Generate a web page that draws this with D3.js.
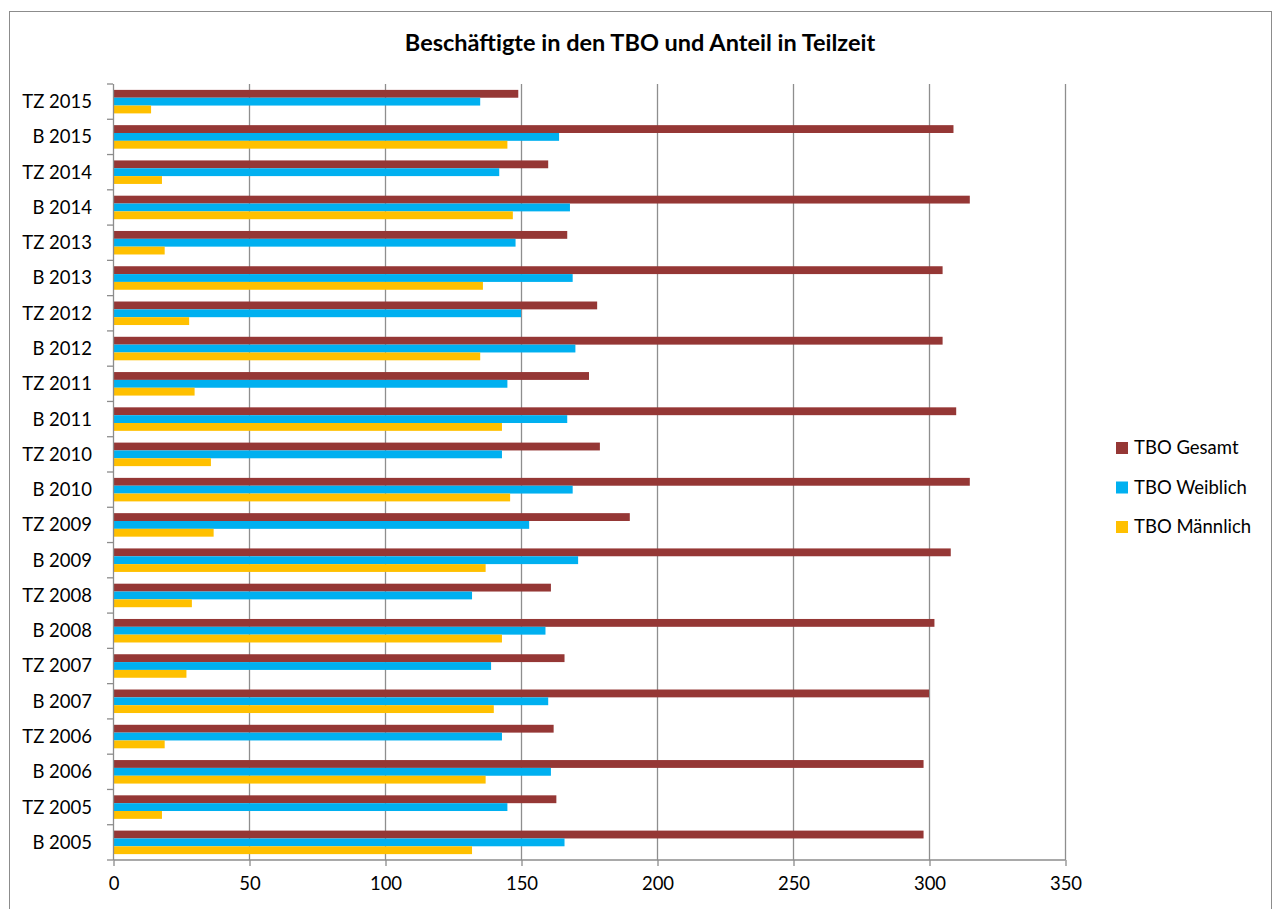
<!DOCTYPE html>
<html>
<head>
<meta charset="utf-8">
<script src="https://cdn.jsdelivr.net/npm/d3@7"></script>
<style>
  html, body { margin: 0; padding: 0; background: #fff; }
  svg { display: block; font-family: Lato, "Open Sans", sans-serif; }
</style>
</head>
<body>
<svg id="chart" width="1279" height="909"></svg>
<script>
// Categories from bottom to top (B = Beschäftigte, TZ = Teilzeit)
const categories = [
  "B 2005", "TZ 2005", "B 2006", "TZ 2006", "B 2007", "TZ 2007",
  "B 2008", "TZ 2008", "B 2009", "TZ 2009", "B 2010", "TZ 2010",
  "B 2011", "TZ 2011", "B 2012", "TZ 2012", "B 2013", "TZ 2013",
  "B 2014", "TZ 2014", "B 2015", "TZ 2015"
];
const gesamt    = [298, 163, 298, 162, 300, 166, 302, 161, 308, 190, 315, 179, 310, 175, 305, 178, 305, 167, 315, 160, 309, 149];
const weiblich  = [166, 145, 161, 143, 160, 139, 159, 132, 171, 153, 169, 143, 167, 145, 170, 150, 169, 148, 168, 142, 164, 135];
const maennlich = [132,  18, 137,  19, 140,  27, 143,  29, 137,  37, 146,  36, 143,  30, 135,  28, 136,  19, 147,  18, 145,  14];

const seriesNames = ["TBO Gesamt", "TBO Weiblich", "TBO Männlich"];
const seriesColors = ["#953735", "#00B0F0", "#FFC000"];
const seriesValues = [gesamt, weiblich, maennlich];
const xTicks = [0, 50, 100, 150, 200, 250, 300, 350];
const title = "Beschäftigte in den TBO und Anteil in Teilzeit";

const svg = d3.select("#chart");
const plot = { left: 113, right: 1065, top: 84, bottom: 860 };
const labelSize = 18.5;

// outer chart frame
svg.append("rect")
  .attr("x", 9.5).attr("y", 11.5)
  .attr("width", 1262).attr("height", 920)
  .attr("fill", "none").attr("stroke", "#8c8c8c").attr("stroke-width", 1);

svg.append("text")
  .attr("x", 640).attr("y", 51)
  .attr("text-anchor", "middle")
  .attr("font-size", 23.5).attr("font-weight", "bold")
  .attr("fill", "#000")
  .text(title);

const x = d3.scaleLinear().domain([0, 350]).range([plot.left, plot.right]);
// top-most category is the last in the list
const y = d3.scaleBand().domain(categories.slice().reverse()).range([plot.top, plot.bottom]).padding(0);
const bw = y.bandwidth();
const gap = bw * 1.5 / 4.5;
const ySeries = d3.scaleBand().domain(d3.range(3)).range([gap / 2, bw - gap / 2]).padding(0);

// vertical gridlines
svg.append("g").selectAll("line")
  .data(xTicks.slice(1))
  .join("line")
  .attr("x1", d => x(d) + 0.5).attr("x2", d => x(d) + 0.5)
  .attr("y1", plot.top).attr("y2", plot.bottom)
  .attr("stroke", "#8e8e8e").attr("stroke-width", 1.3);

// bars
const rows = categories.map((c, i) => ({ c, v: seriesValues.map(s => s[i]) }));
const groups = svg.append("g").selectAll("g")
  .data(rows)
  .join("g")
  .attr("transform", d => `translate(0,${y(d.c)})`);
groups.selectAll("rect")
  .data(d => d.v.map((v, k) => ({ v, k })))
  .join("rect")
  .attr("x", x(0))
  .attr("y", d => ySeries(d.k))
  .attr("width", d => x(d.v) - x(0))
  .attr("height", ySeries.bandwidth())
  .attr("fill", d => seriesColors[d.k]);

// x axis
const xAxis = d3.axisBottom(x).tickValues(xTicks).tickSize(6).tickPadding(11).tickFormat(d3.format("d"));
const gx = svg.append("g").attr("transform", `translate(0.5,${plot.bottom})`).call(xAxis);
gx.select(".domain").attr("stroke", "#8c8c8c").attr("stroke-width", 1.3)
  .attr("d", `M${plot.left},0H${plot.right}`);
gx.selectAll(".tick line").attr("stroke", "#8c8c8c").attr("stroke-width", 1.3);
gx.selectAll(".tick text").attr("font-size", labelSize).attr("fill", "#000")
  .attr("font-family", "Lato, 'Open Sans', sans-serif");

// y axis line with ticks at category boundaries
const gy = svg.append("g");
gy.append("line")
  .attr("x1", plot.left + 0.5).attr("x2", plot.left + 0.5)
  .attr("y1", plot.top).attr("y2", plot.bottom)
  .attr("stroke", "#8c8c8c").attr("stroke-width", 1.3);
const boundaries = d3.range(categories.length + 1).map(i => plot.top + i * bw);
gy.selectAll("line.tk")
  .data(boundaries)
  .join("line")
  .attr("class", "tk")
  .attr("x1", plot.left - 6).attr("x2", plot.left)
  .attr("y1", d => d).attr("y2", d => d)
  .attr("stroke", "#8c8c8c").attr("stroke-width", 1.3);
gy.selectAll("text")
  .data(categories)
  .join("text")
  .attr("x", 92)
  .attr("y", d => y(d) + bw / 2)
  .attr("dy", "0.35em")
  .attr("text-anchor", "end")
  .attr("font-size", labelSize)
  .attr("fill", "#000")
  .text(d => d);

// legend
const legend = svg.append("g").attr("transform", "translate(1116,448)");
const lg = legend.selectAll("g")
  .data(seriesNames)
  .join("g")
  .attr("transform", (d, i) => `translate(0,${i * 39.5})`);
lg.append("rect")
  .attr("x", 0).attr("y", -6).attr("width", 12).attr("height", 12)
  .attr("fill", (d, i) => seriesColors[i]);
lg.append("text")
  .attr("x", 18).attr("y", 0).attr("dy", "0.35em")
  .attr("font-size", labelSize).attr("fill", "#000")
  .text(d => d);
</script>
</body>
</html>
